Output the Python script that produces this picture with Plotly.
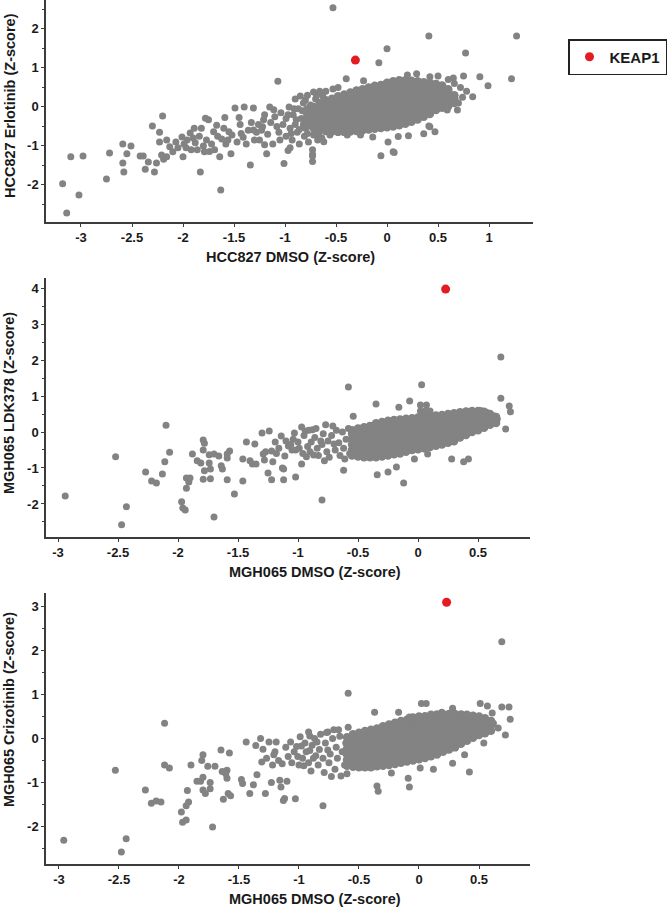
import plotly.graph_objects as go

# ---------------- DATA ----------------
# Panel 1: HCC827 DMSO (x) vs HCC827 Erlotinib (y)
hcc_scatter = [
    (-3.18,-1.97),(-3.14,-2.72),(-3.02,-2.26),(-3.10,-1.28),(-2.98,-1.26),(-2.75,-1.85),(-2.72,-1.18),
    (-2.59,-0.95),(-2.59,-1.44),(-2.58,-1.67),(-2.55,-1.20),(-2.51,-1.00),(-2.42,-1.26),(-2.39,-1.26),
    (-2.37,-1.60),(-2.34,-1.41),(-2.30,-0.49),(-2.28,-1.67),(-2.26,-1.44),(-2.23,-0.65),(-2.23,-0.90),
    (-2.20,-0.23),(-2.21,-1.23),(-2.19,-1.34),(-2.16,-1.28),(-2.16,-0.85),(-2.13,-1.02),(-2.10,-1.15),
    (-2.07,-0.90),(-2.05,-1.05),(-2.01,-0.77),(-2.00,-1.28),(-1.99,-0.95),(-1.96,-0.85),(-1.93,-0.67),
    (-1.92,-1.10),(-1.89,-0.55),(-1.88,-0.92),(-1.83,-1.67),(-1.82,-0.55),(-1.80,-1.00),(-1.78,-0.29),
    (-1.75,-0.33),(-1.77,-0.85),(-1.74,-1.14),(-1.70,-0.64),(-1.67,-0.47),(-1.64,-1.28),(-1.63,-2.13),
    (-1.62,-0.82),(-1.59,-0.27),(-1.58,-0.95),(-1.55,-0.64),(-1.53,-1.20),(-1.49,-0.03),(-1.45,-0.27),
    (-1.43,-0.68),(-1.40,0.00),(-1.38,-0.95),(-1.34,-1.49),(-1.31,-0.03),(-1.28,-0.65),(-1.25,-0.85),
    (-1.21,-0.33),(-1.18,-1.20),(-1.15,0.00),(-1.11,-0.07),(-1.08,-0.50),(-1.05,-0.85),(-1.01,-1.45),
    (-0.97,-1.12),(-1.07,0.66),
    (-1.97,-1.05),(-1.90,-0.80),(-1.86,-1.10),(-1.84,-0.75),(-1.79,-1.15),(-1.72,-0.95),(-1.69,-1.10),
    (-1.66,-0.75),(-1.60,-0.55),(-1.56,-0.85),(-1.52,-0.72),(-1.47,-0.90),(-1.44,-0.45),(-1.41,-0.78),
    (-1.36,-0.60),(-1.33,-0.40),(-1.30,-0.85),(-1.26,-0.45),(-1.23,-0.60),(-1.20,-0.20),(-1.17,-0.70),
    (-1.14,-0.40),(-1.12,-0.95),(-1.10,-0.25),(-1.06,-0.65),(-1.04,-0.15),(-1.02,-0.45),(-0.99,-0.30),
    (-0.99,-0.75),(-0.96,0.00),(-0.95,-0.55),(-0.93,-0.85),(-0.92,-0.20),(-0.90,0.20),(-0.90,-0.45),
    (-0.88,-0.65),(-0.87,-0.05),(-0.86,-0.95),(-0.85,0.28),(-0.84,-0.30),(-0.82,0.10),(-0.81,-0.75),
    (-0.80,-0.55),(-0.79,-0.15),(-0.78,0.30),(-0.77,-0.90),(-0.75,0.05),(-0.74,-0.35),(-0.73,-1.10),
    (-0.73,-1.22),(-0.73,-1.40),(-0.72,0.38),(-0.72,-0.72),(-0.70,0.20),(-0.68,-0.85),(-0.66,0.40),
    (-0.64,-0.80),(-0.62,-0.89),(-0.60,0.40),(-0.56,-0.72),(-0.53,0.46),(-0.48,0.50),(-0.39,-0.72),
    (-0.26,-0.72),(-0.14,-0.77),(-0.40,0.72),(-0.23,0.67),(-0.08,1.13),(0.00,1.49),(0.41,1.82),
    (1.27,1.82),(0.77,1.38),(-0.53,2.54),(0.91,0.77),(1.22,0.72),(0.99,0.54),(0.84,0.26),(0.74,0.25),
    (0.69,-0.08),(0.59,-0.08),(0.41,-0.49),(0.47,-0.64),(0.36,-0.69),(0.21,-0.74),(0.11,-0.76),
    (0.01,-0.90),(0.07,-1.17),(-0.06,-1.25),(0.06,-1.15),(-0.73,-1.26),(-0.95,-1.05),(-1.20,-0.97),
    (-1.22,-0.51),(-1.31,-0.59),(0.20,0.82),(0.29,0.85),(0.42,0.77),(0.50,0.79),(0.65,0.74),(0.75,0.79),
    (0.42,-0.51),(0.72,0.50),(0.78,0.40),(0.70,0.10),(0.66,0.60),(0.60,0.70),(-0.64,-0.80),
    (-0.97,-0.20),(-0.94,-0.68),(-0.91,-0.05),(-0.89,-0.33),(-0.86,-0.58),(-0.83,-0.10),(-0.82,-0.45),
    (-0.80,0.18),(-0.78,-0.68),(-0.76,-0.25),(-0.71,-0.62),(-0.69,0.30),(-0.67,-0.72),(-0.63,0.28),
]
hcc_core = [
    (-0.78, [-0.48,-0.34,-0.20,-0.06]),
    (-0.72, [-0.54,-0.41,-0.27,-0.13,0.00]),
    (-0.66, [-0.60,-0.46,-0.32,-0.18,-0.04,0.10]),
    (-0.60, [-0.62,-0.53,-0.39,-0.25,-0.11,0.03,0.17]),
    (-0.54, [-0.63,-0.49,-0.35,-0.21,-0.07,0.07,0.21]),
    (-0.48, [-0.64,-0.55,-0.41,-0.27,-0.13,0.01,0.15,0.27]),
    (-0.42, [-0.64,-0.50,-0.36,-0.22,-0.08,0.06,0.20,0.32]),
    (-0.36, [-0.63,-0.56,-0.42,-0.28,-0.14,0.00,0.14,0.28,0.37]),
    (-0.30, [-0.62,-0.49,-0.35,-0.21,-0.07,0.07,0.21,0.35,0.42]),
    (-0.24, [-0.60,-0.53,-0.39,-0.25,-0.11,0.03,0.17,0.31,0.45]),
    (-0.18, [-0.58,-0.46,-0.32,-0.18,-0.04,0.10,0.24,0.38,0.50]),
    (-0.12, [-0.56,-0.49,-0.35,-0.21,-0.07,0.07,0.21,0.35,0.49,0.54]),
    (-0.06, [-0.54,-0.42,-0.28,-0.14,0.00,0.14,0.28,0.42,0.56]),
    (0.00, [-0.52,-0.45,-0.31,-0.17,-0.03,0.11,0.25,0.39,0.53,0.62]),
    (0.06, [-0.50,-0.38,-0.24,-0.10,0.04,0.18,0.32,0.46,0.60,0.66]),
    (0.12, [-0.47,-0.41,-0.27,-0.13,0.01,0.15,0.29,0.43,0.57,0.68]),
    (0.18, [-0.43,-0.34,-0.20,-0.06,0.08,0.22,0.36,0.50,0.64,0.68]),
    (0.24, [-0.38,-0.31,-0.17,-0.03,0.11,0.25,0.39,0.53,0.67]),
    (0.30, [-0.32,-0.24,-0.10,0.04,0.18,0.32,0.46,0.60,0.66]),
    (0.36, [-0.25,-0.21,-0.07,0.07,0.21,0.35,0.49,0.63]),
    (0.42, [-0.18,-0.14,0.00,0.14,0.28,0.42,0.56,0.62]),
    (0.48, [-0.08,0.03,0.17,0.31,0.45,0.59]),
    (0.54, [-0.02,0.10,0.24,0.38,0.52,0.55]),
    (0.60, [0.02,0.13,0.27,0.41,0.45]),
    (0.66, [0.10,0.20,0.30]),
]
hcc_keap1 = (-0.31, 1.20)

# Panel 2: MGH065 DMSO (x) vs MGH065 LDK378 (y)
ldk_scatter = [
    (-2.94,-1.78),(-2.52,-0.69),(-2.47,-2.58),(-2.43,-2.08),(-2.27,-1.11),(-2.22,-1.36),(-2.18,-1.42),
    (-2.13,-1.17),(-2.11,-0.83),(-2.10,0.19),(-2.07,-0.56),(-1.97,-1.94),(-1.96,-2.11),(-1.94,-2.17),
    (-1.93,-1.56),(-1.93,-1.28),(-1.91,-1.39),(-1.90,-1.28),(-1.88,-0.61),(-1.84,-0.80),(-1.81,-0.86),
    (-1.79,-0.22),(-1.78,-0.31),(-1.79,-0.50),(-1.79,-1.31),(-1.78,-1.08),(-1.74,-0.63),(-1.74,-0.86),
    (-1.73,-1.30),(-1.73,-1.03),(-1.70,-2.36),(-1.70,-0.61),(-1.66,-0.67),(-1.64,-0.94),(-1.63,-1.03),
    (-1.59,-0.61),(-1.59,-1.33),(-1.59,-0.72),(-1.57,-0.53),(-1.53,-1.72),(-1.46,-1.36),(-1.46,-0.75),
    (-1.43,-0.28),(-1.40,-0.80),(-1.38,-0.89),(-1.36,-0.33),(-1.35,-0.89),(-1.30,-0.03),(-1.29,-0.61),
    (-1.28,-0.78),(-1.25,-1.14),(-1.24,0.03),(-1.22,-1.33),(-1.22,-0.53),(-1.21,-0.83),(-1.19,-0.28),
    (-1.14,-0.11),(-1.12,-1.03),(-1.12,-1.33),(-1.11,-0.67),(-1.08,-0.39),(-1.03,-0.03),(-1.02,-1.25),
    (-1.02,-0.50),(-1.00,-0.28),(-0.97,0.14),(-0.97,-0.89),(-0.94,0.03),(-0.93,-0.69),(-0.89,-0.28),
    (-0.88,0.06),(-0.87,-0.64),(-0.80,-1.89),(-0.81,-0.25),(-0.78,-0.80),(-0.71,0.17),(-0.70,-0.33),
    (-1.27,-0.55),(-1.18,-0.60),(-1.16,-0.45),(-1.13,-1.00),(-1.10,-0.25),(-1.06,-0.35),(-1.05,-0.50),
    (-1.04,-0.20),(-0.99,-0.45),(-0.96,-0.60),(-0.95,-0.10),(-0.92,-0.40),(-0.91,0.05),(-0.90,-0.55),
    (-0.86,-0.15),(-0.85,0.10),(-0.84,-0.45),(-0.83,-0.65),(-0.80,-0.35),(-0.79,-0.05),(-0.77,0.20),
    (-0.76,-0.55),(-0.75,-0.25),(-0.74,-0.70),(-0.72,-0.10),(-0.69,-0.50),(-0.68,0.05),(-0.66,-0.30),
    (-0.65,-0.65),(-0.63,0.00),(-0.62,-0.45),(-0.61,-0.75),(-0.60,-0.20),(-0.58,0.10),(-0.57,-0.60),
    (-0.58,1.25),(0.03,1.31),(0.69,2.08),(0.69,0.94),(0.76,0.72),(0.77,0.56),(0.73,0.08),(-0.35,0.78),
    (-0.16,0.69),(-0.07,0.86),(0.02,0.75),(0.07,0.75),(0.02,0.58),(0.06,0.58),(0.10,0.58),(-0.54,0.44),
    (-0.34,-1.19),(-0.25,-1.11),(-0.18,-0.97),(-0.12,-1.42),(0.28,-0.75),(0.38,-0.83),(0.42,-0.75),
    (-0.62,-1.06),(-0.03,-0.75),(0.08,-0.61),(0.52,0.60),(0.57,0.55),(0.63,0.45),(0.66,0.36),
]
ldk_core = [
    (-0.55, [-0.65,-0.50,-0.35,-0.20,-0.05,0.05]),
    (-0.50, [-0.68,-0.58,-0.43,-0.28,-0.13,0.02,0.10]),
    (-0.45, [-0.70,-0.55,-0.40,-0.25,-0.10,0.05,0.13]),
    (-0.40, [-0.70,-0.62,-0.47,-0.32,-0.17,-0.02,0.13,0.17]),
    (-0.35, [-0.70,-0.55,-0.40,-0.25,-0.10,0.05,0.20,0.24]),
    (-0.30, [-0.68,-0.62,-0.47,-0.32,-0.17,-0.02,0.13,0.28]),
    (-0.25, [-0.65,-0.52,-0.37,-0.22,-0.07,0.08,0.23,0.31]),
    (-0.20, [-0.62,-0.59,-0.44,-0.29,-0.14,0.01,0.16,0.31,0.33]),
    (-0.15, [-0.60,-0.50,-0.35,-0.20,-0.05,0.10,0.25,0.35]),
    (-0.10, [-0.55,-0.42,-0.27,-0.12,0.03,0.18,0.33,0.37]),
    (-0.05, [-0.50,-0.35,-0.20,-0.05,0.10,0.25,0.38]),
    (0.00, [-0.48,-0.42,-0.27,-0.12,0.03,0.18,0.33,0.40]),
    (0.05, [-0.45,-0.35,-0.20,-0.05,0.10,0.25,0.40,0.42]),
    (0.10, [-0.42,-0.28,-0.13,0.02,0.17,0.32,0.44]),
    (0.15, [-0.38,-0.35,-0.20,-0.05,0.10,0.25,0.40,0.46]),
    (0.20, [-0.35,-0.28,-0.13,0.02,0.17,0.32,0.47]),
    (0.25, [-0.30,-0.20,-0.05,0.10,0.25,0.40,0.50]),
    (0.30, [-0.26,-0.13,0.02,0.17,0.32,0.47,0.52]),
    (0.35, [-0.15,-0.05,0.10,0.25,0.40,0.55]),
    (0.40, [-0.08,0.02,0.17,0.32,0.47,0.57]),
    (0.45, [0.00,0.05,0.20,0.35,0.50,0.58]),
    (0.50, [0.05,0.17,0.32,0.47,0.58]),
    (0.55, [0.12,0.20,0.35,0.50,0.56]),
    (0.60, [0.20,0.32,0.47,0.50]),
    (0.65, [0.25,0.35,0.42]),
]
ldk_keap1 = (0.23, 3.97)

# Panel 3: MGH065 DMSO (x) vs MGH065 Crizotinib (y)
criz_scatter = [
    (-2.96,-2.31),(-2.53,-0.72),(-2.48,-2.58),(-2.44,-2.28),(-2.28,-1.17),(-2.23,-1.47),(-2.19,-1.42),
    (-2.15,-1.44),(-2.12,0.35),(-2.12,-0.60),(-2.08,-0.67),(-1.98,-1.67),(-1.97,-1.90),(-1.94,-1.85),
    (-1.94,-1.53),(-1.93,-1.18),(-1.92,-1.44),(-1.90,-0.60),(-1.85,-0.97),(-1.82,-0.97),(-1.80,-0.37),
    (-1.81,-0.50),(-1.80,-0.88),(-1.80,-1.17),(-1.78,-1.25),(-1.76,-0.63),(-1.74,-1.14),(-1.74,-1.00),
    (-1.72,-2.01),(-1.70,-0.63),(-1.65,-0.26),(-1.64,-0.75),(-1.63,-1.38),(-1.61,-0.80),(-1.60,-0.90),
    (-1.60,-0.72),(-1.59,-1.25),(-1.58,-0.33),(-1.57,-1.30),(-1.48,-0.93),(-1.47,-1.02),(-1.44,-0.08),
    (-1.41,-1.25),(-1.38,-1.05),(-1.36,-0.16),(-1.35,-0.82),(-1.32,0.00),(-1.31,-0.53),(-1.30,-0.24),
    (-1.28,-1.25),(-1.25,-0.08),(-1.23,-1.00),(-1.22,-0.60),(-1.21,-0.37),(-1.19,-0.08),(-1.16,-0.95),
    (-1.15,-1.10),(-1.14,-0.57),(-1.13,-1.41),(-1.12,-1.36),(-1.10,-0.97),(-1.09,-0.41),(-1.07,-0.08),
    (-1.03,-1.37),(-1.02,-0.18),(-1.01,-0.41),(-0.99,0.04),(-0.98,-0.17),(-0.96,-0.62),(-0.92,0.15),
    (-0.91,-0.27),(-0.90,-0.74),(-0.86,-0.39),(-0.85,-0.08),(-0.80,-1.53),(-0.79,-0.77),(-0.77,0.14),
    (-0.76,-0.26),(-0.73,-0.86),(-0.71,0.20),
    (-1.27,-0.45),(-1.20,-0.30),(-1.17,-0.50),(-1.11,-0.20),(-1.06,-0.55),(-1.04,-0.30),(-1.00,-0.60),
    (-0.97,-0.45),(-0.95,-0.10),(-0.94,-0.30),(-0.92,-0.55),(-0.89,-0.15),(-0.88,-0.45),(-0.87,0.00),
    (-0.84,-0.60),(-0.83,-0.25),(-0.82,0.10),(-0.80,-0.45),(-0.78,-0.10),(-0.75,-0.55),(-0.74,-0.35),
    (-0.72,0.00),(-0.70,-0.70),(-0.69,-0.20),(-0.68,-0.45),(-0.66,0.05),(-0.65,-0.85),(-0.64,-0.30),
    (-0.62,-0.60),(-0.61,-0.10),(-0.60,-0.80),
    (0.69,2.20),(-0.59,1.03),(-0.37,0.60),(-0.17,0.60),(0.02,0.80),(0.06,0.80),(-0.08,0.49),(0.69,0.72),
    (0.75,0.72),(0.76,0.44),(0.72,0.08),(0.57,0.74),(0.51,0.80),(0.54,-0.10),(0.42,-0.76),(0.28,-0.56),
    (0.12,-0.70),(-0.09,-0.90),(-0.08,-1.10),(-0.35,-1.08),(-0.34,-1.20),(-0.59,0.26),(-0.67,0.20),
    (-0.76,0.15),(-0.91,0.06),(0.19,0.60),(0.28,0.69),(0.38,-0.37),(-0.23,-0.78),(0.01,-0.67),
    (0.61,0.58),(0.62,0.35),(0.66,0.24),
]
criz_core = [
    (-0.60, [-0.62,-0.49,-0.36,-0.23,-0.10,0.03]),
    (-0.55, [-0.64,-0.55,-0.42,-0.29,-0.16,-0.03,0.10]),
    (-0.50, [-0.65,-0.49,-0.36,-0.23,-0.10,0.03,0.13]),
    (-0.45, [-0.65,-0.55,-0.42,-0.29,-0.16,-0.03,0.10,0.17]),
    (-0.40, [-0.65,-0.49,-0.36,-0.23,-0.10,0.03,0.16,0.20]),
    (-0.35, [-0.63,-0.55,-0.42,-0.29,-0.16,-0.03,0.10,0.23]),
    (-0.30, [-0.62,-0.49,-0.36,-0.23,-0.10,0.03,0.16,0.28]),
    (-0.25, [-0.60,-0.55,-0.42,-0.29,-0.16,-0.03,0.10,0.23,0.32]),
    (-0.20, [-0.58,-0.49,-0.36,-0.23,-0.10,0.03,0.16,0.29,0.36]),
    (-0.15, [-0.55,-0.42,-0.29,-0.16,-0.03,0.10,0.23,0.36,0.40]),
    (-0.10, [-0.52,-0.48,-0.35,-0.22,-0.09,0.04,0.17,0.30,0.43]),
    (-0.05, [-0.50,-0.41,-0.28,-0.15,-0.02,0.11,0.24,0.37,0.48]),
    (0.00, [-0.47,-0.34,-0.21,-0.08,0.05,0.18,0.31,0.44,0.50]),
    (0.05, [-0.44,-0.40,-0.27,-0.14,-0.01,0.12,0.25,0.38,0.51]),
    (0.10, [-0.40,-0.33,-0.20,-0.07,0.06,0.19,0.32,0.45,0.54]),
    (0.15, [-0.36,-0.26,-0.13,0.00,0.13,0.26,0.39,0.52,0.55]),
    (0.20, [-0.30,-0.19,-0.06,0.07,0.20,0.33,0.46,0.56]),
    (0.25, [-0.25,-0.12,0.01,0.14,0.27,0.40,0.53,0.56]),
    (0.30, [-0.20,-0.07,0.06,0.19,0.32,0.45,0.56]),
    (0.35, [-0.12,0.00,0.13,0.26,0.39,0.52,0.55]),
    (0.40, [-0.05,0.07,0.20,0.33,0.46,0.54]),
    (0.45, [0.02,0.14,0.27,0.40,0.52]),
    (0.50, [0.08,0.20,0.33,0.46,0.50]),
    (0.55, [0.12,0.25,0.38,0.46]),
    (0.60, [0.18,0.30,0.40]),
]
criz_keap1 = (0.23, 3.10)

x_titles = ["HCC827 DMSO (Z-score)", "MGH065 DMSO (Z-score)", "MGH065 DMSO (Z-score)"]
y_titles = ["HCC827 Erlotinib (Z-score)", "MGH065 LDK378 (Z-score)", "MGH065 Crizotinib (Z-score)"]
x_ticks_1 = [-3, -2.5, -2, -1.5, -1, -0.5, 0, 0.5, 1]
x_ticks_23 = [-3, -2.5, -2, -1.5, -1, -0.5, 0, 0.5]
y_ticks = [[-2, -1, 0, 1, 2], [-2, -1, 0, 1, 2, 3, 4], [-2, -1, 0, 1, 2, 3]]
legend_label = "KEAP1"

# ---------------- FIGURE ----------------
W, H = 667, 910
GRAY = "#838383"
RED = "#e31b23"
AXC = "#3c3c3c"
TXT = "#1a1a1a"
FONT = "Liberation Sans, Arial, sans-serif"


def lab(v):
    return "%g" % v


panels = [
    (hcc_scatter, hcc_core, hcc_keap1),
    (ldk_scatter, ldk_core, ldk_keap1),
    (criz_scatter, criz_core, criz_keap1),
]

# pixel geometry (left, right, top, bottom) of plot areas
geom = [(46, 533, 0, 222), (46, 530, 278, 537), (46, 530, 593, 864)]
xranges = [(-3.343, 1.431), (-3.10, 0.933), (-3.108, 0.925)]
yranges = [(-2.95, 2.74), (-2.917, 4.278), (-2.852, 3.31)]
xtitle_pos = [(290, 257), (315, 572), (315, 899)]
ytitle_pos = [(10, 106), (9, 403), (9, 710)]

fig = go.Figure()
layout = dict(
    width=W, height=H,
    margin=dict(l=0, r=0, t=0, b=0),
    paper_bgcolor="white", plot_bgcolor="white",
    showlegend=True,
    legend=dict(
        x=568 / W, y=1 - 39 / H, xanchor="left", yanchor="top",
        bordercolor="#222222", borderwidth=1.5, bgcolor="white",
        font=dict(family=FONT, size=15, color=TXT, weight="bold"),
        itemwidth=30,
    ),
    annotations=[],
)

for i, (sc, core, kp) in enumerate(panels):
    n = "" if i == 0 else str(i + 1)
    cx = [c[0] for c in core for _ in c[1]]
    cy = [v for c in core for v in c[1]]
    fig.add_trace(go.Scatter(
        x=cx, y=cy, mode="markers", xaxis="x" + n, yaxis="y" + n,
        marker=dict(color=GRAY, size=8.5, line=dict(width=0)),
        showlegend=False, hoverinfo="skip",
    ))
    fig.add_trace(go.Scatter(
        x=[p[0] for p in sc], y=[p[1] for p in sc], mode="markers",
        xaxis="x" + n, yaxis="y" + n,
        marker=dict(color=GRAY, size=7, line=dict(width=0)),
        showlegend=False, hoverinfo="skip",
    ))
    fig.add_trace(go.Scatter(
        x=[kp[0]], y=[kp[1]], mode="markers", xaxis="x" + n, yaxis="y" + n,
        marker=dict(color=RED, size=9, line=dict(width=0)),
        name=legend_label, showlegend=(i == 0),
    ))
    l, r, t, b = geom[i]
    xt = x_ticks_1 if i == 0 else x_ticks_23
    yt = y_ticks[i]
    minor_y = [v + 0.5 for v in range(int(yt[0]) - 1, int(yt[-1]) + 1)]
    layout["xaxis" + n] = dict(
        domain=[l / W, r / W], range=list(xranges[i]), anchor="y" + n,
        showline=True, linecolor=AXC, linewidth=1.5,
        showgrid=False, zeroline=False,
        ticks="outside", ticklen=3, tickwidth=1, tickcolor=AXC,
        tickmode="array", tickvals=xt, ticktext=[lab(v) for v in xt],
        tickfont=dict(family=FONT, size=13, color=TXT, weight="bold"),
        automargin=False, fixedrange=True,
    )
    layout["yaxis" + n] = dict(
        domain=[1 - b / H, 1 - t / H], range=list(yranges[i]), anchor="x" + n,
        showline=True, linecolor=AXC, linewidth=1.5,
        showgrid=False, zeroline=False,
        ticks="outside", ticklen=3, tickwidth=1, tickcolor=AXC,
        tickmode="array", tickvals=yt, ticktext=[lab(v) for v in yt],
        tickfont=dict(family=FONT, size=13, color=TXT, weight="bold"),
        minor=dict(tickmode="array", tickvals=minor_y, ticks="outside",
                   ticklen=2, tickwidth=1, tickcolor=AXC),
        automargin=False, fixedrange=True,
    )
    xp, yp = xtitle_pos[i]
    layout["annotations"].append(dict(
        text=x_titles[i], x=xp / W, y=1 - yp / H, xref="paper", yref="paper",
        xanchor="center", yanchor="middle", showarrow=False,
        font=dict(family=FONT, size=14.5, color=TXT, weight="bold"),
    ))
    xp, yp = ytitle_pos[i]
    layout["annotations"].append(dict(
        text=y_titles[i], x=xp / W, y=1 - yp / H, xref="paper", yref="paper",
        xanchor="center", yanchor="middle", showarrow=False, textangle=-90,
        font=dict(family=FONT, size=14.5, color=TXT, weight="bold"),
    ))

fig.update_layout(**layout)
fig.write_html(
    "out.html",
    config={"displayModeBar": False},
    post_script="document.body.style.margin='0';document.body.style.padding='0';",
)
